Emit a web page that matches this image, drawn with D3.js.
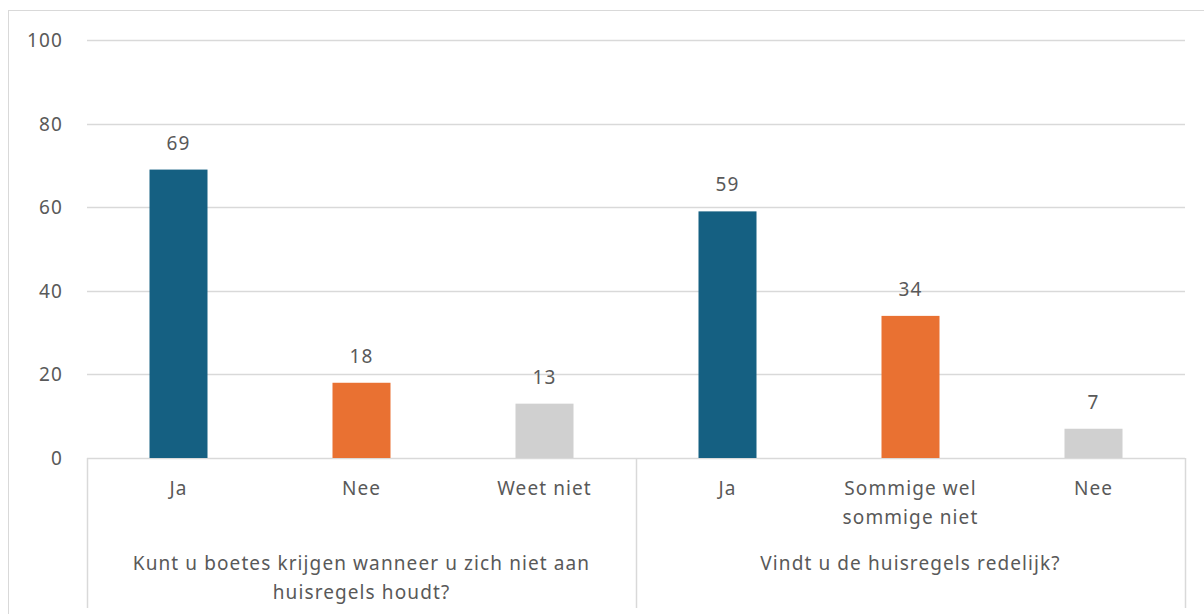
<!DOCTYPE html>
<html>
<head>
<meta charset="utf-8">
<script src="https://cdn.jsdelivr.net/npm/d3@7"></script>
<style>
body { margin: 0; background: #fff; }
text { font-family: "Noto Sans", "Open Sans", sans-serif; fill: #595959; font-size: 19px; letter-spacing: 1.1px; }
</style>
</head>
<body>
<script>
var groups = [["Kunt u boetes krijgen wanneer u zich niet aan", "huisregels houdt?"], ["Vindt u de huisregels redelijk?"]];
var categories = [[["Ja"], ["Nee"], ["Weet niet"]], [["Ja"], ["Sommige wel", "sommige niet"], ["Nee"]]];
var values = [[69, 18, 13], [59, 34, 7]];
var colors = ["#156082", "#E97132", "#D0D0D0"];
var ticks = [0, 20, 40, 60, 80, 100];

var width = 1204, height = 614;
var plotLeft = 87, plotRight = 1185, plotTop = 40, plotBottom = 458;

var svg = d3.select('body').append('svg').attr('width', width).attr('height', height);

// chart frame
svg.append('rect').attr('x', 8.5).attr('y', 10.5).attr('width', 1210).attr('height', 620)
	.attr('fill', 'none').attr('stroke', '#d9d9d9');

var flat = [];
values.forEach(function(g, gi){
	g.forEach(function(v, ci){
		flat.push({g: gi, c: ci, v: v, label: categories[gi][ci], key: gi + '-' + ci});
	});
});

var x = d3.scaleBand().domain(flat.map(function(d){ return d.key; })).range([plotLeft, plotRight]);
var xg = d3.scaleBand().domain(d3.range(groups.length)).range([plotLeft, plotRight]);
var y = d3.scaleLinear().domain([0, 100]).range([plotBottom, plotTop]);

// gridlines
svg.append('g').selectAll('line').data(ticks).enter().append('line')
	.attr('x1', plotLeft).attr('x2', plotRight)
	.attr('y1', function(d){ return Math.round(y(d)) + 0.5; })
	.attr('y2', function(d){ return Math.round(y(d)) + 0.5; })
	.attr('stroke', '#d9d9d9').attr('stroke-width', 1.5);

svg.append('g').selectAll('text').data(ticks).enter().append('text')
	.text(function(d){ return d; })
	.attr('x', 63).attr('y', function(d){ return y(d) + 7; })
	.attr('text-anchor', 'end');

// bars
var bw = 58;
svg.append('g').selectAll('rect').data(flat).enter().append('rect')
	.attr('x', function(d){ return x(d.key) + x.bandwidth()/2 - bw/2; })
	.attr('y', function(d){ return y(d.v); })
	.attr('width', bw)
	.attr('height', function(d){ return y(0) - y(d.v); })
	.attr('fill', function(d){ return colors[d.c]; });

svg.append('g').selectAll('text').data(flat).enter().append('text')
	.text(function(d){ return d.v; })
	.attr('x', function(d){ return x(d.key) + x.bandwidth()/2; })
	.attr('y', function(d){ return y(d.v) - 20; })
	.attr('text-anchor', 'middle');

// category labels
flat.forEach(function(d){
	d.label.forEach(function(line, i){
		svg.append('text').text(line)
			.attr('x', x(d.key) + x.bandwidth()/2)
			.attr('y', 495 + i*29)
			.attr('text-anchor', 'middle');
	});
});

// group labels
groups.forEach(function(lines, gi){
	lines.forEach(function(line, i){
		svg.append('text').text(line)
			.attr('x', xg(gi) + xg.bandwidth()/2)
			.attr('y', 570 + i*29)
			.attr('text-anchor', 'middle');
	});
});

// group dividers
var divs = [plotLeft, xg(1), plotRight];
svg.append('g').selectAll('line').data(divs).enter().append('line')
	.attr('x1', function(d){ return Math.round(d) + 0.5; })
	.attr('x2', function(d){ return Math.round(d) + 0.5; })
	.attr('y1', plotBottom).attr('y2', 608)
	.attr('stroke', '#d9d9d9').attr('stroke-width', 1.5);
</script>
</body>
</html>
